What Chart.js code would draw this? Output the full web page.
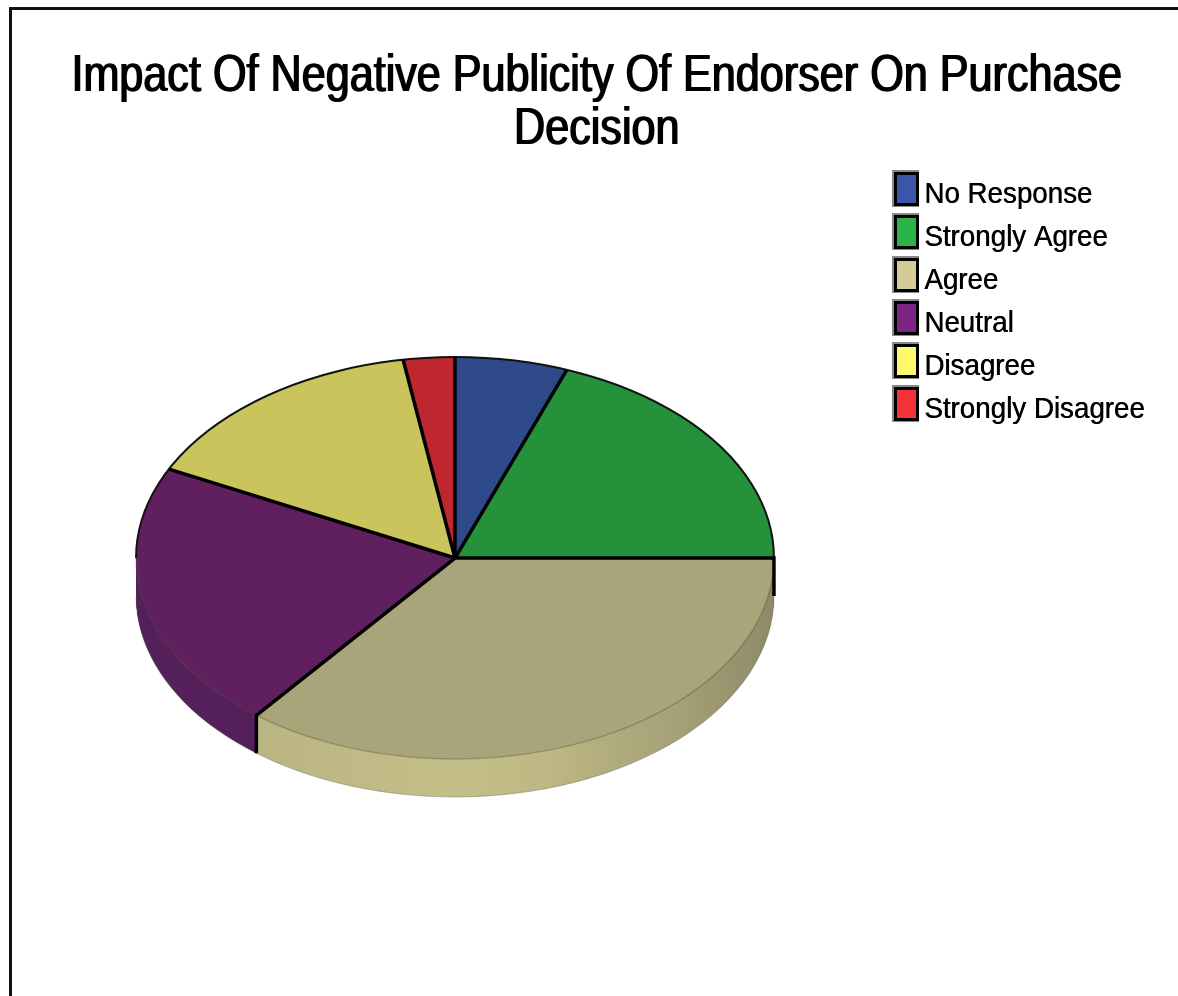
<!DOCTYPE html>
<html>
<head>
<meta charset="utf-8">
<title>Impact Of Negative Publicity Of Endorser On Purchase Decision</title>
<script src="https://cdn.jsdelivr.net/npm/chart.js@4"></script>
<style>
  html, body { margin: 0; padding: 0; background: #fff; overflow: hidden; }
  #frame { position: absolute; left: 9px; top: 7px; right: 0; bottom: 0; border-top: 3px solid #111; border-left: 3px solid #111; }
  #chart { position: absolute; left: 0; top: 0; filter: blur(0.5px); }
</style>
</head>
<body>
<div id="frame"></div>
<canvas id="chart" width="1178" height="996"></canvas>
<script>
const titleLines = ['Impact Of Negative Publicity Of Endorser On Purchase', 'Decision'];
const categories = ['No Response', 'Strongly Agree', 'Agree', 'Neutral', 'Disagree', 'Strongly Disagree'];
const shares     = [5.7, 19.3, 35.7, 21.6, 15.1, 2.6];

const topColors    = ['#2f4a8a', '#25923b', '#a9a47a', '#602060', '#c9c45c', '#bf272e'];
const legendColors = ['#3a56a8', '#2bb34a', '#d4cc96', '#7b2481', '#fdf96b', '#f2333a'];
const sideColors   = ['#26396b', '#1c6e2c', '#c4be88', '#55205c', '#9c9847', '#8f1d22'];

const squash = 0.63;   // pie is seen from an angle
const depth  = 38;
const titleSqueeze  = 0.83;  // reference text is narrower than Liberation Sans
const legendSqueeze = 0.925;

function squashed(ctx, cy) {
  ctx.translate(0, cy);
  ctx.scale(1, squash);
  ctx.translate(0, -cy);
}

// draw a layout box with its text narrowed around one x, and a bit heavier
function narrowBox(box, ctx, cx, k, heavy) {
  const draw = box.draw.bind(box);
  box.draw = area => {
    ctx.save();
    ctx.translate(cx, 0);
    ctx.scale(k, 1);
    ctx.translate(-cx, 0);
    ctx.shadowColor = '#000';
    ctx.shadowOffsetX = heavy;
    draw(area);
    ctx.restore();
  };
}

const tiltedPie = {
  id: 'tiltedPie',

  afterLayout(chart) {
    const t = chart.titleBlock;
    t.left = -404;
    t.right = 1596;
    const l = chart.legend;
    l.left = 880;
    l.top = 167;
    l.right = 1300;
    l.bottom = 460;
  },

  // side wall: the same arcs, stacked downwards
  beforeDatasetsDraw(chart) {
    const ctx = chart.ctx;
    const arcs = chart.getDatasetMeta(0).data;
    const { x, y, outerRadius: r } = arcs[0];

    const tan = ctx.createLinearGradient(x - r, 0, x + r, 0);
    tan.addColorStop(0, '#b5af80');
    tan.addColorStop(0.5, '#c4be88');
    tan.addColorStop(0.65, '#bdb783');
    tan.addColorStop(0.85, '#a5a078');
    tan.addColorStop(1, '#8e8a68');

    for (let d = depth; d >= 1; d--) {
      arcs.forEach((arc, i) => {
        ctx.save();
        ctx.translate(0, d);
        squashed(ctx, y);
        ctx.beginPath();
        ctx.moveTo(x, y);
        ctx.arc(x, y, r, arc.startAngle, arc.endAngle);
        ctx.closePath();
        ctx.fillStyle = i === 2 ? tan : sideColors[i];
        ctx.fill();
        ctx.restore();
      });
    }

    // silhouette of the wall
    ctx.save();
    ctx.beginPath();
    ctx.ellipse(x, y + depth, r, r * squash, 0, 0, Math.PI);
    ctx.strokeStyle = 'rgba(90,90,70,0.4)';
    ctx.lineWidth = 1;
    ctx.stroke();
    ctx.restore();
  },

  beforeDatasetDraw(chart) {
    const arc = chart.getDatasetMeta(0).data[0];
    chart.ctx.save();
    squashed(chart.ctx, arc.y);
  },

  afterDatasetDraw(chart) {
    chart.ctx.restore();
  },

  // black edges are stroked unsquashed so they keep one width
  afterDatasetsDraw(chart) {
    const ctx = chart.ctx;
    const arcs = chart.getDatasetMeta(0).data;
    const { x, y, outerRadius: r } = arcs[0];
    const ry = r * squash;
    ctx.save();

    ctx.beginPath();
    ctx.ellipse(x, y, r, ry, 0, 0, Math.PI);
    ctx.strokeStyle = 'rgba(80,80,60,0.35)';
    ctx.lineWidth = 1.5;
    ctx.stroke();

    ctx.beginPath();
    ctx.ellipse(x, y, r, ry, 0, Math.PI, Math.PI * 2);
    ctx.strokeStyle = '#111';
    ctx.lineWidth = 2;
    ctx.stroke();

    ctx.strokeStyle = '#000';
    ctx.lineWidth = 3.5;
    arcs.forEach(arc => {
      const a = arc.startAngle;
      const px = x + r * Math.cos(a);
      const py = y + ry * Math.sin(a);
      ctx.beginPath();
      ctx.moveTo(x, y);
      ctx.lineTo(px, py);
      if (Math.sin(a) > -0.01 && Math.sin(a) < 1) {
        ctx.lineTo(px, py + depth);
      }
      ctx.stroke();
    });
    ctx.restore();
  },

  // legend swatches with their raised frame
  afterDraw(chart) {
    const ctx = chart.ctx;
    const legend = chart.legend;
    legend.legendHitBoxes.forEach((box, i) => {
      const cy = box.top + box.height / 2 - 6;
      ctx.save();
      ctx.fillStyle = '#8a8a8a';
      ctx.fillRect(box.left - 1, cy - 19, 27, 37);
      ctx.fillStyle = '#000';
      ctx.fillRect(box.left + 1, cy - 17, 25, 34);
      ctx.fillStyle = legendColors[i];
      ctx.fillRect(box.left + 4, cy - 14, 19, 28);
      ctx.restore();
    });
  }
};

const chart = new Chart(document.getElementById('chart'), {
  type: 'pie',
  data: {
    labels: categories,
    datasets: [{
      data: shares,
      backgroundColor: topColors,
      borderWidth: 0
    }]
  },
  options: {
    responsive: false,
    animation: false,
    events: [],
    layout: { padding: { left: 136, right: 404, top: 0, bottom: 119 } },
    plugins: {
      tooltip: { enabled: false },
      title: {
        display: true,
        text: titleLines,
        color: '#000',
        font: { family: '"Liberation Sans", Arial, sans-serif', size: 52, weight: 'normal', lineHeight: 1.02 },
        padding: { top: 50, bottom: 83 }
      },
      legend: {
        position: 'chartArea',
        align: 'start',
        labels: {
          boxWidth: 16,
          boxHeight: 30,
          padding: 13,
          color: '#000',
          font: { family: '"Liberation Sans", Arial, sans-serif', size: 30, lineHeight: 1 },
          // the box itself is painted in afterDraw, with its frame
          generateLabels: chart => categories.map((text, i) => ({
            text,
            fillStyle: 'rgba(0,0,0,0)',
            fontColor: '#000',
            textAlign: 'left',
            strokeStyle: 'rgba(0,0,0,0)',
            lineWidth: 0,
            index: i,
            hidden: false
          }))
        }
      }
    }
  },
  plugins: [tiltedPie]
});

narrowBox(chart.titleBlock, chart.ctx, 596, titleSqueeze, 1.5);
narrowBox(chart.legend, chart.ctx, 926, legendSqueeze, 0.5);
chart.draw();
</script>
</body>
</html>
